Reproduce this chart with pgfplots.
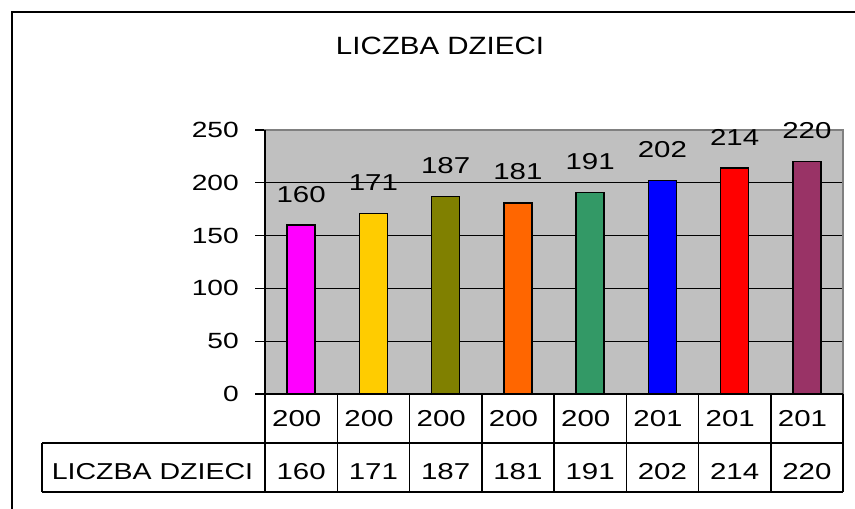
\documentclass[border=0pt]{standalone}
\usepackage{pgfplots}
\pgfplotsset{compat=1.18}
\usepackage{fontspec}
\setmainfont{Liberation Sans}
\usepackage{graphicx}
\definecolor{plotbg}{HTML}{C0C0C0}
\definecolor{frame}{HTML}{808080}
\definecolor{c1}{HTML}{FF00FF}
\definecolor{c2}{HTML}{FFCC00}
\definecolor{c3}{HTML}{808000}
\definecolor{c4}{HTML}{FF6600}
\definecolor{c5}{HTML}{339966}
\definecolor{c6}{HTML}{0000FF}
\definecolor{c7}{HTML}{FF0000}
\definecolor{c8}{HTML}{993366}
\newcommand{\nx}[1]{\scalebox{1.28}[1]{#1}}
\newcommand{\tx}[1]{\scalebox{1.18}[1]{#1}}
\newcommand{\numfont}{\fontsize{23bp}{27bp}\selectfont}
\begin{document}
\begin{tikzpicture}[x=1bp,y=1bp]
\useasboundingbox (0,0) rectangle (855,509);
\fill[white] (0,0) rectangle (855,509);
\draw[line width=2bp] (12,0) -- (12,497) -- (855,497);
\node[font=\fontsize{25bp}{30bp}\selectfont, anchor=base, inner sep=0pt] at (440,454) {\tx{LICZBA DZIECI}};
\begin{axis}[
  at={(265bp,115bp)}, anchor=south west, scale only axis,
  width=578bp, height=264bp,
  xmin=-0.5, xmax=7.5, ymin=0, ymax=250,
  ytick={0,50,...,250}, xtick=\empty,
  ymajorgrids, grid style={black, line width=1.3bp},
  axis background/.style={fill=plotbg},
  axis line style={frame, line width=2bp},
  axis on top=false,
  tick align=outside, ytick pos=left, major tick length=10bp,
  y tick style={black, line width=1.3bp},
  /pgf/number format/assume math mode=true,
  yticklabel={\nx{\pgfmathprintnumber{\tick}}},
  yticklabel style={font=\fontsize{22bp}{26bp}\selectfont, inner sep=0pt, xshift=-16bp},
  ybar, bar width=28bp, clip=false,
  nodes near coords={\nx{\pgfmathprintnumber{\pgfplotspointmeta}}},
  nodes near coords style={font=\numfont, inner sep=0pt, anchor=south, yshift=22bp, text=black},
]
\addplot[fill=c1, draw=black, line width=1.5bp, bar shift=0pt] coordinates {(0,160)};
\addplot[fill=c2, draw=black, line width=1.5bp, bar shift=0pt] coordinates {(1,171)};
\addplot[fill=c3, draw=black, line width=1.5bp, bar shift=0pt] coordinates {(2,187)};
\addplot[fill=c4, draw=black, line width=1.5bp, bar shift=0pt] coordinates {(3,181)};
\addplot[fill=c5, draw=black, line width=1.5bp, bar shift=0pt] coordinates {(4,191)};
\addplot[fill=c6, draw=black, line width=1.5bp, bar shift=0pt] coordinates {(5,202)};
\addplot[fill=c7, draw=black, line width=1.5bp, bar shift=0pt] coordinates {(6,214)};
\addplot[fill=c8, draw=black, line width=1.5bp, bar shift=0pt] coordinates {(7,220)};
\end{axis}
% left axis line (black)
\draw[black, line width=1.5bp] (265,379) -- (265,115);
% data table
\draw[black, line width=1.5bp] (265,115) -- (843,115);
\draw[black, line width=1.5bp] (42,66) -- (843,66);
\draw[black, line width=1.5bp] (42,17) -- (843,17);
\draw[black, line width=1.5bp] (42,66) -- (42,17);
\foreach \k in {0,...,8} {
  \draw[black, line width=1.5bp] ({265+72.25*\k},115) -- ({265+72.25*\k},17);
}
\node[font=\numfont, anchor=base, inner sep=0pt] at (152.5,29) {\scalebox{1.24}[1]{LICZBA DZIECI}};
\foreach \k/\lab/\val in {0/200/160,1/200/171,2/200/187,3/200/181,4/200/191,5/201/202,6/201/214,7/201/220} {
  \node[font=\numfont, anchor=base west, inner sep=0pt] at ({272+72.25*\k},82) {\nx{\lab}};
  \node[font=\numfont, anchor=base, inner sep=0pt] at ({301.1+72.25*\k},29) {\nx{\val}};
}
\end{tikzpicture}
\end{document}
